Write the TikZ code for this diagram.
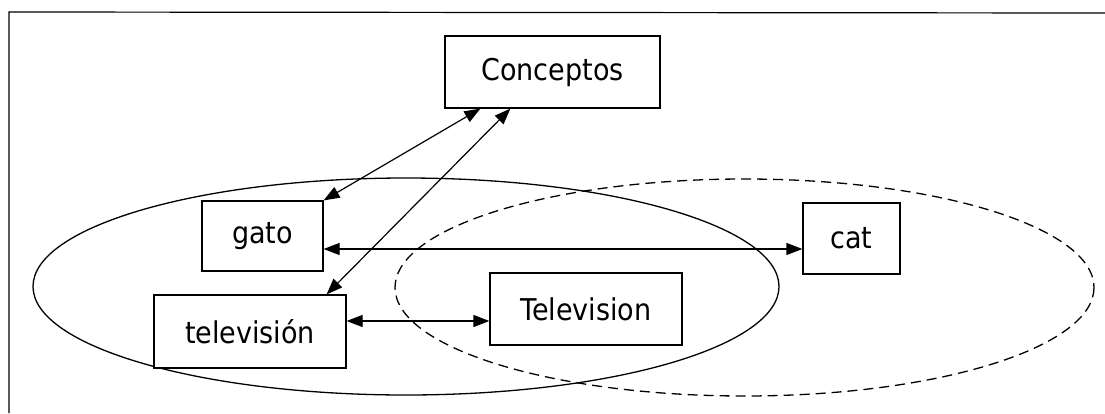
\documentclass[tikz,border=0pt]{standalone}
\usepackage{fontspec}
\setmainfont{DejaVu Sans Condensed}
\usetikzlibrary{arrows.meta}

\begin{document}
\begin{tikzpicture}[x=1pt, y=-1pt, line width=1.2pt,
        box/.style = {draw, fill=white, rectangle, inner sep=0pt},
        set/.style = {line width=1.3pt},
        >={Triangle[length=16pt, width=12pt]},
        font=\fontsize{30}{36}\selectfont]
        \useasboundingbox (0,0) rectangle (1105,413);
        % frame
        \draw (9,413) -- (9,12) -- (1105,13);
        % the two sets
        \draw[set] (406,286.5) ellipse [x radius=373, y radius=108.5];
        \draw[set, dash pattern=on 10pt off 6pt] (744.5,287.5) ellipse [x radius=349.5, y radius=108.5];
        % words
        \node[box, minimum width=215pt, minimum height=72pt] (conceptos) at (552.5,72) {Conceptos};
        \node[box, minimum width=121pt, minimum height=70pt] (gato) at (262.5,236) {gato};
        \node[box, minimum width=97pt, minimum height=71pt] (cat) at (851.5,238.5) {cat};
        \node[box, minimum width=192pt, minimum height=73pt] (tele) at (250,331.5) {televisión};
        \node[box, minimum width=192pt, minimum height=72pt] (television) at (586,309) {Television};
        % links
        \draw[<->] ([xshift=36pt]conceptos.south west) -- (gato.north east);
        \draw[<->] ([xshift=66pt]conceptos.south west) -- ([xshift=-20pt]tele.north east);
        \draw[<->] ([yshift=-13pt]gato.east) -- ([yshift=-13pt]gato.east -| cat.west);
        \draw[<->] ([yshift=10.5pt]tele.east) -- ([yshift=10.5pt]tele.east -| television.west);
    \end{tikzpicture}
\end{document}
